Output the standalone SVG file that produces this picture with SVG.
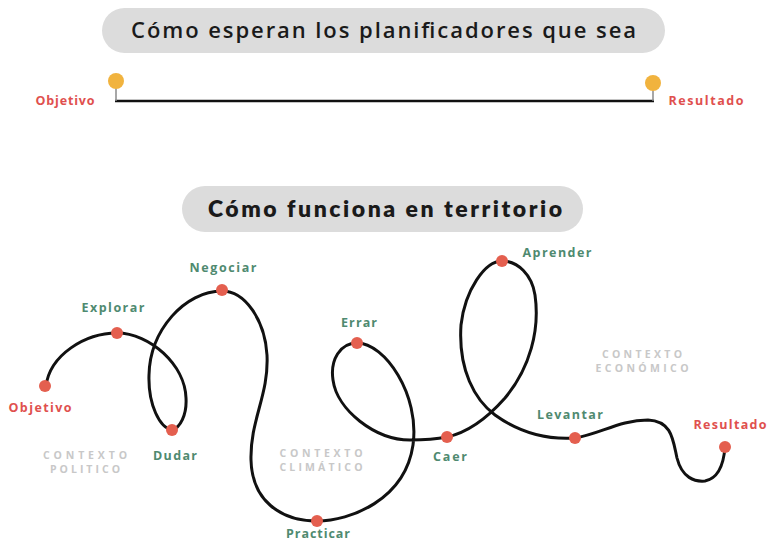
<svg xmlns="http://www.w3.org/2000/svg" width="767" height="542" viewBox="0 0 767 542">
<style>
.pill{fill:#dcdcdc}
.title{font-family:"Open Sans","Liberation Sans",sans-serif;font-weight:600;fill:#1a1a1a}
.lbl{font-family:"Open Sans","Liberation Sans",sans-serif;font-weight:700;font-size:12.5px;text-anchor:middle}
.g{fill:#4f8a70}
.r{fill:#e0504e}
.ctx{font-family:"Open Sans","Liberation Sans",sans-serif;font-weight:700;font-size:10.5px;fill:#c8c8c8;text-anchor:middle}
.dot{fill:#e45f4f}
.pin{fill:#f1b33e}
.stem{stroke:#8a8a8a;stroke-width:1.5}
.wire{fill:none;stroke:#111;stroke-width:3;stroke-linecap:round;stroke-linejoin:round}
</style>
<rect width="767" height="542" fill="#ffffff"/>

<g id="title-plan">
<rect class="pill" x="102" y="8" width="563" height="45" rx="22.5"/>
<text class="title" x="131" y="38" font-size="22" textLength="505" lengthAdjust="spacing">Cómo esperan los planificadores que sea</text>
</g>

<g id="title-territorio">
<rect class="pill" x="182" y="186" width="401" height="46" rx="23"/>
<text class="title" x="208" y="217" font-size="23" textLength="354" lengthAdjust="spacing" style="font-family:Lato,'Liberation Sans',sans-serif;font-weight:800">Cómo funciona en territorio</text>
</g>

<g id="connectors">
<line x1="115" y1="101" x2="654" y2="101" stroke="#111" stroke-width="2.5"/>
<path class="wire" d="M46,386 C50,355 85,333 117,333 C150,333 185,365 186,398 C187,415 180,428 172,430 C160,428 148,405 149,375 C150,330 185,291 222,291 C245,291 265,320 267,355 C269,395 250,420 251,460 C252,500 280,521 317,521 C350,521 405,500 413,445 C420,395 385,343 357,343 C340,343 330,360 333,380 C337,410 375,440 410,440 C425,440 437,439 447,437 C470,432 490,415 505,398 C530,368 540,330 535,295 C532,275 518,261 502,261 C485,261 465,290 461,325 C458,370 475,400 495,415 C520,433 545,440 575,438 C600,434 620,420 648,420 C672,421 673,440 677,458 C682,478 695,482 705,481 C720,478 724,460 725,447"/>
</g>

<g id="plan-objetivo">
<line class="stem" x1="116" y1="88" x2="116" y2="101"/>
<circle class="pin" cx="116" cy="81" r="8"/>
<text class="lbl r" x="65" y="105" font-size="11.5" textLength="59" lengthAdjust="spacing">Objetivo</text>
</g>
<g id="plan-resultado">
<line class="stem" x1="653" y1="90" x2="653" y2="101"/>
<circle class="pin" cx="653" cy="83" r="8"/>
<text class="lbl r" x="706" y="105" font-size="11.5" textLength="75" lengthAdjust="spacing">Resultado</text>
</g>

<g id="objetivo"><circle class="dot" cx="45" cy="386" r="6"/><text class="lbl r" x="40" y="412" textLength="63" lengthAdjust="spacing">Objetivo</text></g>
<g id="explorar"><circle class="dot" cx="117" cy="333" r="6"/><text class="lbl g" x="113" y="312" textLength="63" lengthAdjust="spacing">Explorar</text></g>
<g id="negociar"><circle class="dot" cx="222" cy="290" r="6"/><text class="lbl g" x="223" y="272" textLength="67" lengthAdjust="spacing">Negociar</text></g>
<g id="dudar"><circle class="dot" cx="172" cy="430" r="6"/><text class="lbl g" x="175" y="460" textLength="44" lengthAdjust="spacing">Dudar</text></g>
<g id="practicar"><circle class="dot" cx="317" cy="521" r="6"/><text class="lbl g" x="318" y="538" textLength="64" lengthAdjust="spacing">Practicar</text></g>
<g id="errar"><circle class="dot" cx="357" cy="343" r="6"/><text class="lbl g" x="359" y="327" textLength="36" lengthAdjust="spacing">Errar</text></g>
<g id="caer"><circle class="dot" cx="447" cy="437" r="6"/><text class="lbl g" x="450" y="461" textLength="34" lengthAdjust="spacing">Caer</text></g>
<g id="aprender"><circle class="dot" cx="502" cy="261" r="6"/><text class="lbl g" x="557" y="257" textLength="69" lengthAdjust="spacing">Aprender</text></g>
<g id="levantar"><circle class="dot" cx="575" cy="438" r="6"/><text class="lbl g" x="570" y="419" textLength="66" lengthAdjust="spacing">Levantar</text></g>
<g id="resultado"><circle class="dot" cx="725" cy="447" r="6"/><text class="lbl r" x="730" y="429" textLength="73" lengthAdjust="spacing">Resultado</text></g>

<g id="contexto-politico"><text class="ctx" x="85" y="459" textLength="84" lengthAdjust="spacing">CONTEXTO</text><text class="ctx" x="85" y="473" textLength="70" lengthAdjust="spacing">POLITICO</text></g>
<g id="contexto-climatico"><text class="ctx" x="321" y="457" textLength="83" lengthAdjust="spacing">CONTEXTO</text><text class="ctx" x="321" y="471" textLength="83" lengthAdjust="spacing">CLIMÁTICO</text></g>
<g id="contexto-economico"><text class="ctx" x="642" y="358" textLength="80" lengthAdjust="spacing">CONTEXTO</text><text class="ctx" x="642" y="372" textLength="93" lengthAdjust="spacing">ECONÓMICO</text></g>
</svg>
